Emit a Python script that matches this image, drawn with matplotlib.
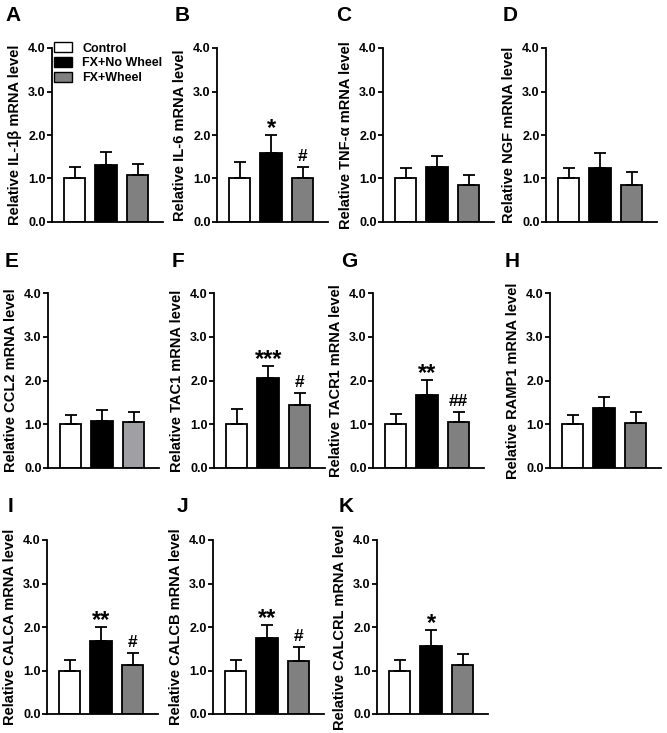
import matplotlib
matplotlib.use("Agg")
import matplotlib.pyplot as plt
from matplotlib.patches import Patch
import numpy as np

plt.rcParams['font.family'] = ['Liberation Sans', 'DejaVu Sans']
plt.rcParams['font.weight'] = 'bold'

groups = ["Control", "FX+No Wheel", "FX+Wheel"]
panels = ["A", "B", "C", "D", "E", "F", "G", "H", "I", "J", "K"]
genes = ["IL-1β", "IL-6", "TNF-α", "NGF", "CCL2", "TAC1", "TACR1", "RAMP1",
         "CALCA", "CALCB", "CALCRL"]

control_mean = [1.00, 1.00, 1.00, 1.00, 1.00, 1.00, 1.00, 1.00, 1.00, 1.00, 1.00]
nowheel_mean = [1.32, 1.59, 1.26, 1.25, 1.07, 2.05, 1.67, 1.37, 1.68, 1.74, 1.57]
wheel_mean = [1.07, 1.00, 0.84, 0.86, 1.05, 1.44, 1.04, 1.02, 1.12, 1.22, 1.12]

control_sem = [0.27, 0.38, 0.25, 0.25, 0.22, 0.34, 0.23, 0.21, 0.24, 0.25, 0.25]
nowheel_sem = [0.28, 0.41, 0.25, 0.34, 0.26, 0.29, 0.35, 0.25, 0.32, 0.30, 0.35]
wheel_sem = [0.26, 0.27, 0.25, 0.29, 0.24, 0.27, 0.24, 0.25, 0.28, 0.32, 0.26]

nowheel_sig = ["", "*", "", "", "", "***", "**", "", "**", "**", "*"]
wheel_sig = ["", "#", "", "", "", "#", "##", "", "#", "#", ""]

yticks = [0.0, 1.0, 2.0, 3.0, 4.0]

W, H = 667, 733
fig = plt.figure(figsize=(W / 100, H / 100), dpi=100)

# layout in pixels: axes left edge, letter x, row index
lefts = [52, 217, 383, 546, 48, 214, 373, 550, 47, 213, 377]
letter_x = [5, 175, 336, 503, 5, 172, 341, 505, 8, 177, 339]
rows = [0, 0, 0, 0, 1, 1, 1, 1, 2, 2, 2]
row_bottom = [222, 468, 714]
row_top = [48, 293, 540]
letter_top = [6, 252, 497]
ax_w = 111

for i, p in enumerate(panels):
    r = rows[i]
    ax = fig.add_axes([lefts[i] / W, 1 - row_bottom[r] / H, ax_w / W,
                       (row_bottom[r] - row_top[r]) / H])
    gray = "#a0a0a4" if p == "E" else "#808080"
    colors = ["white", "black", gray]
    x = np.arange(3)
    means = [control_mean[i], nowheel_mean[i], wheel_mean[i]]
    sems = [control_sem[i], nowheel_sem[i], wheel_sem[i]]
    ax.bar(x, means, width=0.68, color=colors, edgecolor="black", linewidth=1.3, zorder=2)
    ax.errorbar(x, means, yerr=[np.zeros(3), sems], fmt="none", ecolor="black",
                elinewidth=1.3, capsize=4, capthick=1.3, zorder=3)
    tops = np.array(means) + np.array(sems)
    if nowheel_sig[i]:
        ax.annotate(nowheel_sig[i], xy=(1, tops[1]), xytext=(0, 0), textcoords="offset points",
                    ha="center", va="baseline", fontsize=17, fontweight="bold")
    if wheel_sig[i]:
        ax.annotate(wheel_sig[i], xy=(2, tops[2]), xytext=(0, 4.5), textcoords="offset points",
                    ha="center", va="baseline", fontsize=12.5, fontweight="bold")

    ax.set_xlim(-0.72, -0.72 + ax_w / 31.5)
    ax.set_ylim(0, 4)
    ax.set_yticks(yticks)
    ax.set_yticklabels(["%.1f" % t for t in yticks], fontsize=9, fontweight="bold")
    ax.set_xticks([])
    for s in ["top", "right"]:
        ax.spines[s].set_visible(False)
    for s in ["left", "bottom"]:
        ax.spines[s].set_linewidth(1.3)
    ax.tick_params(axis="y", direction="out", length=3.5, width=1.3, pad=1.0)
    ax.set_ylabel("Relative %s mRNA level" % genes[i], fontsize=10.5, fontweight="bold")
    ax.yaxis.set_label_coords(-0.27, 0.5)

    fig.text(letter_x[i] / W, 1 - letter_top[r] / H, p, fontsize=15, fontweight="bold",
             ha="left", va="top")

    if p == "A":
        handles = [Patch(facecolor=c, edgecolor="black", linewidth=1.0) for c in colors]
        ax.legend(handles, groups, loc="upper left", bbox_to_anchor=(0.01, 1.04),
                  frameon=False, handlelength=1.45, handleheight=0.85,
                  handletextpad=0.8, labelspacing=0.2, borderaxespad=0, borderpad=0.1,
                  prop={"weight": "bold", "size": 9})

fig.savefig("out.png", dpi=100)
